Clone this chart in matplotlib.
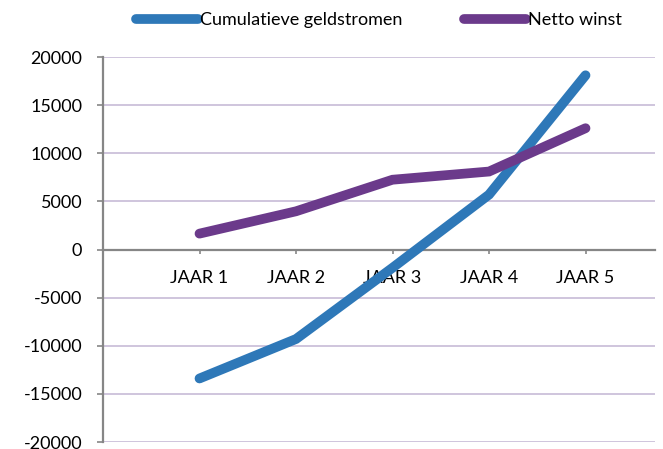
import matplotlib
matplotlib.use("Agg")
import matplotlib.pyplot as plt

categories = ["JAAR 1", "JAAR 2", "JAAR 3", "JAAR 4", "JAAR 5"]
cumulatief = [-13400, -9300, -1900, 5700, 18100]
netto = [1650, 3970, 7250, 8100, 12600]
yticks = [-20000, -15000, -10000, -5000, 0, 5000, 10000, 15000, 20000]

plt.rcParams['font.family'] = ['Lato', 'DejaVu Sans']

fig = plt.figure(figsize=(6.63, 4.49), dpi=100)
ax = fig.add_axes([103/663, 1-442/449, (655-103)/663, (442-57)/449])

x = list(range(1, len(categories)+1))
ax.plot(x, cumulatief, color='#2E78B8', lw=7, solid_capstyle='round', solid_joinstyle='miter',
        label='Cumulatieve geldstromen', zorder=3)
ax.plot(x, netto, color='#6B3A8B', lw=7, solid_capstyle='round', solid_joinstyle='miter',
        label='Netto winst', zorder=3)

ax.set_ylim(-20000, 20000)
ax.set_xlim(0, 5.72)
ax.set_yticks(yticks)
ax.set_yticklabels([str(v) for v in yticks], fontsize=13)
for v in yticks:
    if v != 0:
        ax.axhline(v, color='#CCC0DA', lw=1.3, zorder=1)

for s in ['top', 'right']:
    ax.spines[s].set_visible(False)
ax.spines['bottom'].set_position(('data', 0))
for s in ['left', 'bottom']:
    ax.spines[s].set_color('#868686')
    ax.spines[s].set_linewidth(1.6)
ax.tick_params(axis='y', length=4, color='#868686', width=1.2, pad=11)
ax.set_xticks(x)
ax.set_xticklabels(categories, fontsize=13)
ax.tick_params(axis='x', length=3, color='#868686', width=1.2, pad=12)

leg = fig.legend(loc='center', bbox_to_anchor=(0.572, 1-20/449), ncol=2, frameon=False,
                 fontsize=13, handlelength=3.4, handletextpad=0.15, columnspacing=3.4,
                 borderaxespad=0, borderpad=0)

fig.savefig('out.png', dpi=100)
